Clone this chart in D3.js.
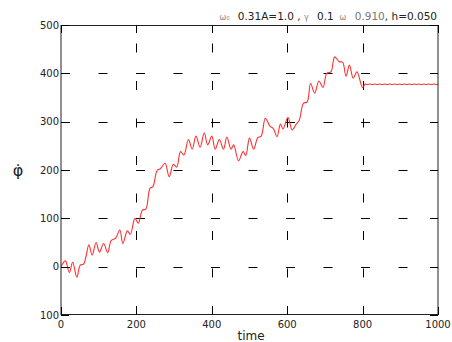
<!DOCTYPE html>
<html>
<head>
<meta charset="utf-8">
<script src="https://cdn.jsdelivr.net/npm/d3@7/dist/d3.min.js"></script>
<style>
  html, body { margin: 0; padding: 0; background: #fff; }
  svg { display: block; }
  text { font-family: "DejaVu Sans", sans-serif; }
</style>
</head>
<body>
<svg id="chart" width="452" height="342"></svg>
<script>
// Angular velocity of the driven pendulum over time
const time = [0, 11.6, 22, 31, 42, 51, 60, 66, 74, 82.7, 93, 102, 113, 124, 133, 145, 156, 164, 176, 184,
  196, 205, 216, 225, 236, 244, 255, 264, 276, 287, 298, 307, 317, 326, 338, 348, 358, 369, 380, 389,
  400, 409, 420, 431, 440, 451, 458, 471, 483, 490, 500, 511, 522, 531, 542, 554, 563, 573, 582, 589,
  602, 613, 624, 632, 643, 653, 662, 673, 684, 695, 705, 716, 726, 738, 747, 756, 765, 775, 785, 800,
  807, 813, 820, 826, 833, 839, 846, 852, 859, 865, 872, 878, 885, 891, 898, 904, 911, 917, 924, 930,
  937, 943, 950, 956, 963, 969, 976, 982, 989, 995, 1000];
const phiDot = [0, 12, -12, 9, -22, 3, 5.5, 20, 45, 24, 50, 30, 48, 29, 54, 59, 76, 48, 74, 67,
  100, 90, 117, 119, 162, 166, 199, 203, 214, 186, 212, 206, 238, 231, 263, 243, 270, 247, 277, 252,
  270, 243, 263, 243, 268, 243, 252, 219, 238, 230, 266, 243, 267, 270, 307, 291, 286, 269, 295, 285,
  309, 283, 295, 303, 338, 341, 379, 359, 384, 371, 400, 403, 434, 424, 423, 394, 417, 390, 403, 371,
  377.8, 377, 377.8, 377, 377.8, 377, 377.8, 377, 377.8, 377, 377.8, 377, 377.8, 377, 377.8, 377, 377.8, 377, 377.8, 377,
  377.8, 377, 377.8, 377, 377.8, 377, 377.8, 377, 377.8, 377, 377.4];

const xTicks = [0, 200, 400, 600, 800, 1000];
const xTickLabels = ["0", "200", "400", "600", "800", "1000"];
const yTicks = [-100, 0, 100, 200, 300, 400, 500];
const yTickLabels = ["100", "0", "100", "200", "300", "400", "500"];

const svg = d3.select("#chart");
const x = d3.scaleLinear().domain([0, 1000]).range([61, 438]);
const y = d3.scaleLinear().domain([-100, 500]).range([315, 25]);

const grid = svg.append("g").attr("stroke", "#000").attr("stroke-width", 1)
  .attr("stroke-dasharray", "9,28.5").attr("fill", "none");
// horizontal grid, drawn left to right
grid.selectAll("line.h").data(yTicks.slice(1, -1)).join("line")
  .attr("x1", x(0)).attr("x2", x(1000))
  .attr("y1", d => Math.round(y(d)) + 0.5).attr("y2", d => Math.round(y(d)) + 0.5);
// vertical grid, drawn bottom to top
grid.selectAll("line.v").data(xTicks.slice(1, -1)).join("line")
  .attr("y1", y(-100)).attr("y2", y(500))
  .attr("x1", d => Math.round(x(d)) + 0.5).attr("x2", d => Math.round(x(d)) + 0.5);

// data curve
const line = d3.line()
  .x((d, i) => x(time[i]))
  .y(d => y(d))
  .curve(d3.curveCatmullRom.alpha(0.5));
svg.append("path")
  .attr("d", line(phiDot))
  .attr("fill", "none")
  .attr("stroke", "#ff3030")
  .attr("stroke-width", 1.1);

// frame
svg.append("rect")
  .attr("x", 61).attr("y", 25.5).attr("width", 377).attr("height", 289)
  .attr("fill", "none").attr("stroke", "#222").attr("stroke-width", 1);

// inward ticks on all four sides
const ticks = svg.append("g").attr("stroke", "#000").attr("stroke-width", 1);
xTicks.forEach(d => {
  const px = Math.round(x(d)) + 0.5;
  ticks.append("line").attr("x1", px).attr("x2", px).attr("y1", 315).attr("y2", 307);
  ticks.append("line").attr("x1", px).attr("x2", px).attr("y1", 25).attr("y2", 33);
});
yTicks.forEach(d => {
  const py = Math.round(y(d)) + 0.5;
  ticks.append("line").attr("x1", 61).attr("x2", 69).attr("y1", py).attr("y2", py);
  ticks.append("line").attr("x1", 438).attr("x2", 430).attr("y1", py).attr("y2", py);
});

// tick labels
svg.append("g").selectAll("text").data(xTicks).join("text")
  .attr("x", d => x(d)).attr("y", 327.5)
  .attr("text-anchor", "middle").attr("font-size", 10).attr("fill", "#222")
  .text((d, i) => xTickLabels[i]);
svg.append("g").selectAll("text").data(yTicks).join("text")
  .attr("x", 59).attr("y", d => y(d) + 3.6)
  .attr("text-anchor", "end").attr("font-size", 10).attr("fill", "#222")
  .text((d, i) => yTickLabels[i]);

// axis labels
svg.append("text").attr("x", 251).attr("y", 340)
  .attr("text-anchor", "middle").attr("font-size", 12).attr("fill", "#222")
  .text("time");
svg.append("text").attr("x", 18).attr("y", 176)
  .attr("text-anchor", "middle").attr("font-size", 16).attr("fill", "#222")
  .text("\u03C6\u0307");

// parameter title
const title = svg.append("text").attr("x", 437).attr("y", 20)
  .attr("text-anchor", "end").attr("font-size", 10.5).attr("fill", "#222")
  .attr("xml:space", "preserve");
title.append("tspan").attr("fill", "#888").attr("font-size", 8).text("\u03C9\u2080  ");
title.append("tspan").text(" 0.31A=1.0 , ");
title.append("tspan").attr("fill", "#888").attr("font-size", 8).text("\u03B3  ");
title.append("tspan").text(" 0.1 ");
title.append("tspan").attr("fill", "#888").attr("font-size", 8).text(" \u03C9  ");
title.append("tspan").attr("fill", "#777").text(" 0.910");
title.append("tspan").text(", h=0.050");
</script>
</body>
</html>
